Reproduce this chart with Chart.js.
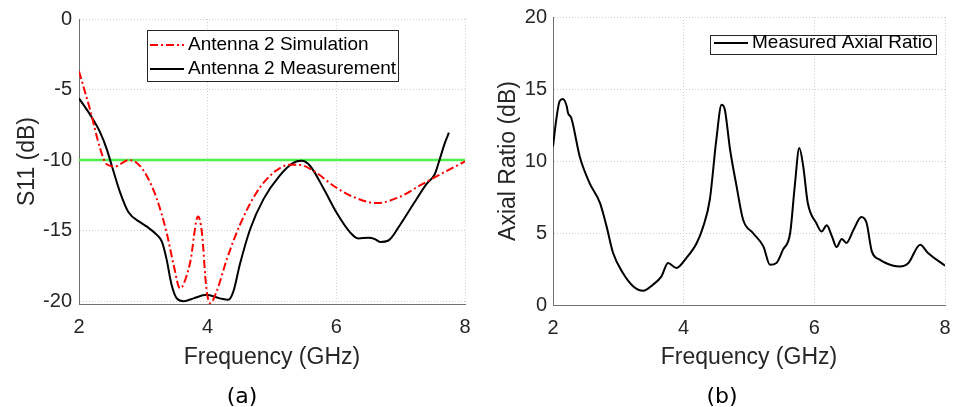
<!DOCTYPE html>
<html>
<head>
<meta charset="utf-8">
<script src="https://cdn.jsdelivr.net/npm/chart.js@4.4.1/dist/chart.umd.min.js"></script>
<style>
  html, body { margin: 0; padding: 0; background: #fff; }
  #wrap { position: relative; width: 953px; height: 407px; overflow: hidden; }
  .panel { position: absolute; top: 0; height: 407px; }
  .cap { position: absolute; font-family: "DejaVu Sans", sans-serif; font-size: 22px; color: #000;
         transform: translate(-50%, -50%); white-space: nowrap; }
</style>
</head>
<body>
<div id="wrap">
  <div class="panel" style="left:0;width:480px"><canvas id="s11Chart" width="480" height="407"></canvas></div>
  <div class="panel" style="left:480px;width:473px"><canvas id="arChart" width="473" height="407"></canvas></div>
  <div class="cap" style="left:242px;top:395px">(a)</div>
  <div class="cap" style="left:722px;top:395px">(b)</div>
</div>
<script>
// --- data ---
const simFreq = [2.0, 2.17, 2.33, 2.43, 2.56, 2.77, 2.9, 3.05, 3.21, 3.36, 3.47, 3.57, 3.62, 3.73, 3.85, 3.91,
  3.98, 4.04, 4.14, 4.3, 4.5, 4.76, 5.02, 5.28, 5.44, 5.69, 5.95, 6.26, 6.63, 6.99, 7.3, 7.66, 8.0]
const simS11 = [-3.7, -6.4, -9.2, -10.3, -10.45, -10.0, -10.2, -11.1, -12.75, -15.1, -17.4, -19.1, -18.85, -17.2, -14.0, -15.1,
  -19.1, -20.15, -19.3, -17.0, -14.6, -12.3, -10.9, -10.33, -10.35, -10.9, -11.8, -12.6, -13.05, -12.6, -11.8, -10.9, -10.1]

const measFreq = [2.0, 2.17, 2.33, 2.43, 2.51, 2.64, 2.77, 2.95, 3.05, 3.21, 3.29, 3.36, 3.44, 3.52, 3.63, 3.78,
  3.98, 4.19, 4.32, 4.4, 4.5, 4.66, 4.87, 5.12, 5.33, 5.46, 5.59, 5.8, 6.0, 6.21, 6.34, 6.5, 6.6, 6.68, 6.81,
  6.99, 7.2, 7.4, 7.53, 7.61, 7.69, 7.75]
const measS11 = [-5.63, -6.76, -8.05, -9.2, -10.4, -12.3, -13.7, -14.4, -14.7, -15.3, -15.8, -17.0, -18.85, -19.8, -20.0, -19.8,
  -19.55, -19.8, -19.9, -19.3, -17.4, -14.9, -12.75, -11.1, -10.2, -10.05, -10.4, -12.0, -13.7, -15.1, -15.55, -15.5, -15.6, -15.8, -15.7,
  -14.6, -13.1, -11.7, -11.0, -9.9, -8.75, -8.05]

const threshold = -10

const arFreq = [2.0, 2.05, 2.1, 2.15, 2.21, 2.23, 2.28, 2.41, 2.56, 2.72, 2.82, 2.92, 3.07, 3.23, 3.38, 3.53, 3.66,
  3.76, 3.89, 4.04, 4.2, 4.3, 4.4, 4.5, 4.58, 4.63, 4.71, 4.81, 4.91, 5.06, 5.22, 5.32, 5.42, 5.52, 5.63, 5.7,
  5.77, 5.83, 5.9, 6.03, 6.11, 6.19, 6.27, 6.34, 6.42, 6.49, 6.6, 6.72, 6.8, 6.88, 7.0, 7.21, 7.31, 7.44, 7.62,
  7.74, 8.0]
const arValues = [11.0, 12.87, 14.14, 14.3, 13.8, 13.33, 12.99, 10.3, 8.47, 7.08, 5.46, 3.61, 2.22, 1.29, 0.99, 1.41, 1.99,
  2.92, 2.57, 3.26, 4.31, 5.46, 7.31, 11.48, 13.9, 13.56, 10.8, 8.24, 5.92, 5.0, 4.07, 2.8, 2.92, 3.84, 5.0, 8.24,
  10.9, 9.63, 7.08, 5.69, 5.11, 5.53, 4.76, 4.03, 4.58, 4.31, 5.23, 6.11, 5.69, 3.72, 3.15, 2.73, 2.68, 2.92, 4.19,
  3.61, 2.73]

const freqTicks = [2, 4, 6, 8]
const s11Ticks = [-20, -15, -10, -5, 0]
const arTicks = [0, 5, 10, 15, 20]

// --- helpers ---
const FONT = '"Liberation Sans", Arial, sans-serif'
const TEXT = '#262626'

function pts(xs, ys) {
  return xs.map((x, i) => ({ x: x, y: ys[i] }))
}

function steps(from, to, step) {
  const out = []
  for (let v = from; v <= to + 1e-9; v += step) out.push({ value: Math.round(v * 100) / 100 })
  return out
}

// legend drawn inside the plot with a framed box, like the original
const boxLegend = {
  id: 'boxLegend',
  afterDraw(chart, args, opts) {
    const ctx = chart.ctx
    const items = chart.data.datasets.filter(d => !d.noLegend)
    ctx.save()
    ctx.fillStyle = '#fff'
    ctx.fillRect(opts.x, opts.y, opts.w, opts.h)
    ctx.strokeStyle = TEXT
    ctx.lineWidth = 1
    ctx.strokeRect(opts.x + 0.5, opts.y + 0.5, opts.w, opts.h)
    ctx.font = '19px ' + FONT
    ctx.textBaseline = 'middle'
    items.forEach((d, i) => {
      const cy = opts.y + opts.rowTop + i * opts.rowH
      ctx.strokeStyle = d.borderColor
      ctx.lineWidth = d.borderWidth
      ctx.setLineDash(d.borderDash || [])
      ctx.beginPath()
      ctx.moveTo(opts.x + opts.lx0, cy)
      ctx.lineTo(opts.x + opts.lx1, cy)
      ctx.stroke()
      ctx.setLineDash([])
      ctx.fillStyle = '#000'
      ctx.fillText(d.label, opts.x + opts.tx, cy)
    })
    ctx.restore()
  }
}

function buildScales(cfg) {
  const gridCommon = { color: '#d0d0d0', lineWidth: 1, drawTicks: false }
  const borderCommon = { display: true, color: '#707070', width: 1, dash: [1, 2] }
  return {
    x: {
      type: 'linear',
      min: 2,
      max: 8,
      afterBuildTicks: s => { s.ticks = steps(2, 8, 0.5) },
      afterFit: s => {
        s.height = cfg.xHeight
        s.paddingLeft = 0
        s.paddingRight = 0
      },
      grid: gridCommon,
      border: borderCommon,
      ticks: {
        autoSkip: false,
        maxRotation: 0,
        padding: cfg.xTickPad,
        color: TEXT,
        font: { family: FONT, size: 20 },
        callback: v => freqTicks.includes(v) ? String(v) : null
      },
      title: {
        display: true,
        text: 'Frequency (GHz)',
        color: TEXT,
        font: { family: FONT, size: 23 },
        padding: { top: 0, bottom: cfg.xTitlePad }
      }
    },
    y: {
      type: 'linear',
      min: cfg.yMin,
      max: cfg.yMax,
      afterBuildTicks: s => { s.ticks = steps(cfg.yFrom, cfg.yMax, 1) },
      afterFit: s => {
        s.width = cfg.yWidth
        s.paddingTop = 0
        s.paddingBottom = 0
      },
      grid: gridCommon,
      border: borderCommon,
      ticks: {
        autoSkip: false,
        padding: cfg.yTickPad,
        color: TEXT,
        font: { family: FONT, size: 20 },
        callback: v => cfg.yTicks.includes(v) ? String(v) : null
      },
      title: {
        display: true,
        text: cfg.yTitle,
        color: TEXT,
        font: { family: FONT, size: 23 },
        padding: { top: cfg.yTitlePad, bottom: 0 }
      }
    }
  }
}

// --- (a) S11 chart ---
new Chart(document.getElementById('s11Chart').getContext('2d'), {
  type: 'line',
  data: {
    datasets: [
      {
        label: 'Antenna 2 Simulation',
        data: pts(simFreq, simS11),
        borderColor: '#ff0000',
        borderWidth: 2,
        borderDash: [8, 3, 2, 3],
        cubicInterpolationMode: 'monotone'
      },
      {
        label: 'Antenna 2 Measurement',
        data: pts(measFreq, measS11),
        borderColor: '#000000',
        borderWidth: 2,
        cubicInterpolationMode: 'monotone'
      },
      {
        label: '-10 dB',
        noLegend: true,
        data: pts([2, 8], [threshold, threshold]),
        borderColor: '#4cf04c',
        borderWidth: 2.5
      }
    ]
  },
  options: {
    responsive: false,
    animation: false,
    layout: { padding: { left: 0, right: 15, top: 19, bottom: 0 } },
    elements: { point: { radius: 0 } },
    plugins: {
      legend: { display: false },
      tooltip: { enabled: false },
      boxLegend: { x: 147, y: 30, w: 251, h: 51, rowTop: 15, rowH: 24, lx0: 3, lx1: 37, tx: 41 }
    },
    scales: buildScales({
      xHeight: 103, xTickPad: 11, xTitlePad: 36,
      yMin: -20.2, yMax: 0, yFrom: -20, yWidth: 79, yTickPad: 7, yTitlePad: 14,
      yTicks: s11Ticks, yTitle: 'S11 (dB)'
    })
  },
  plugins: [boxLegend]
})

// --- (b) axial ratio chart ---
new Chart(document.getElementById('arChart').getContext('2d'), {
  type: 'line',
  data: {
    datasets: [
      {
        label: 'Measured Axial Ratio',
        data: pts(arFreq, arValues),
        borderColor: '#000000',
        borderWidth: 2,
        cubicInterpolationMode: 'monotone'
      }
    ]
  },
  options: {
    responsive: false,
    animation: false,
    layout: { padding: { left: 0, right: 8, top: 17, bottom: 0 } },
    elements: { point: { radius: 0 } },
    plugins: {
      legend: { display: false },
      tooltip: { enabled: false },
      boxLegend: { x: 230, y: 35, w: 226, h: 19, rowTop: 8, rowH: 24, lx0: 4, lx1: 38, tx: 42 }
    },
    scales: buildScales({
      xHeight: 102, xTickPad: 11, xTitlePad: 36,
      yMin: 0, yMax: 20, yFrom: 0, yWidth: 73, yTickPad: 6, yTitlePad: 15,
      yTicks: arTicks, yTitle: 'Axial Ratio (dB)'
    })
  },
  plugins: [boxLegend]
})
</script>
</body>
</html>
